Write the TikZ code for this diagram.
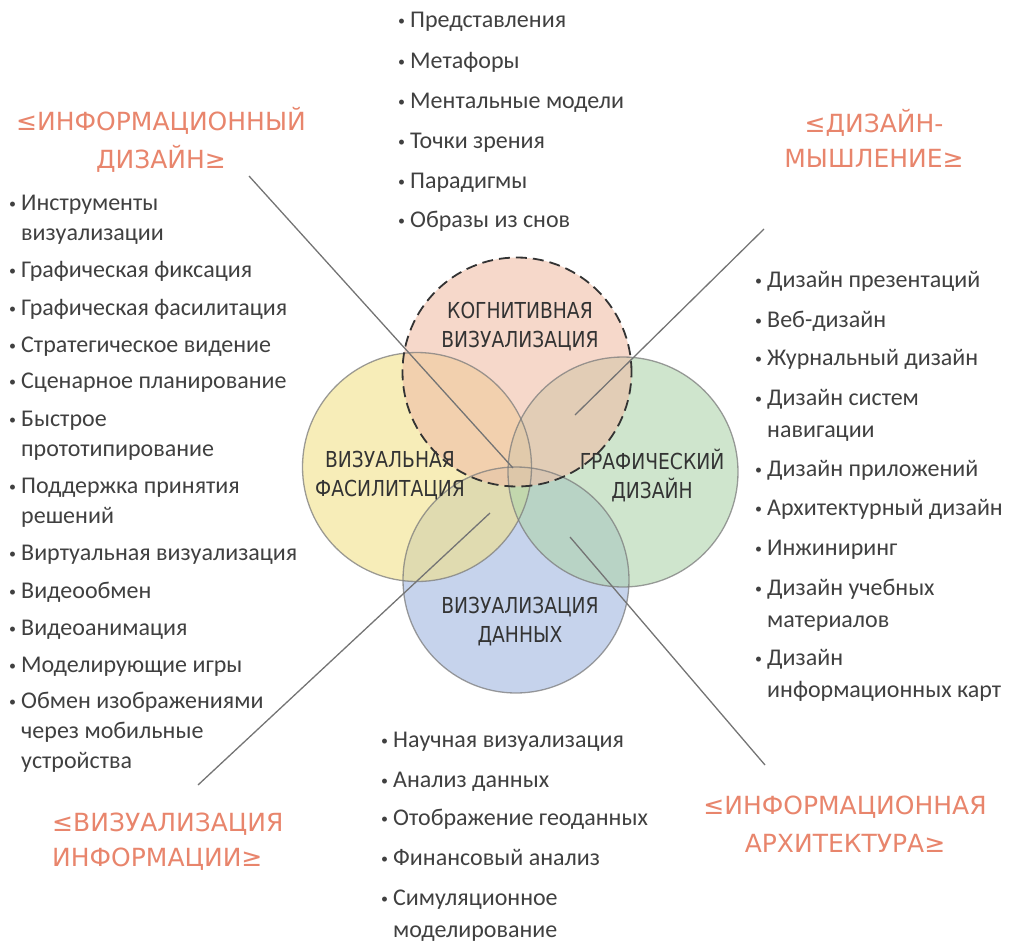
\documentclass[tikz,border=0pt]{standalone}
\usepackage{fontspec}
\setmainfont{Carlito}
\newfontfamily\handc[FakeStretch=0.85]{DejaVu Sans}
\newfontfamily\handw{DejaVu Sans}
\definecolor{txt}{HTML}{404040}
\definecolor{salmon}{HTML}{E8856C}
\definecolor{cpink}{RGB}{240,190,167}
\definecolor{cyell}{RGB}{242,225,137}
\definecolor{cgreen}{RGB}{175,212,172}
\definecolor{cblue}{RGB}{160,182,223}
\definecolor{ring}{HTML}{7C7C7C}
\definecolor{conn}{HTML}{747474}
\newcommand\bl{\makebox[12pt][l]{\raisebox{1.5pt}{\fontsize{14}{14}\selectfont •}}}
\newcommand\ind{\hspace*{12pt}}
\tikzset{
  item/.style={anchor=base west, inner sep=0pt, text=txt, align=left, font=\fontsize{24}{30}\selectfont},
  itemr/.style={item, font=\fontsize{24}{32}\selectfont},
  venn/.style={circle, inner sep=0pt, fill opacity=0.6},
  ringline/.style={draw=ring, line width=1.3pt, draw opacity=0.75},
  clabel/.style={align=center, inner sep=0pt, text=black!80, font=\handc\fontsize{22}{29}\selectfont},
  hlabel/.style={align=center, inner sep=0pt, text=salmon, font=\handw\fontsize{25}{38}\selectfont},
  connector/.style={draw=conn, line width=1.3pt},
}
\begin{document}
\begin{tikzpicture}[x=1pt,y=-1pt]
\useasboundingbox (0,0) rectangle (1013,943);
% circles
\node[venn, fill=cblue, minimum size=226pt] (dv) at (516,580) {};
\node[venn, fill=cyell, minimum size=229pt] (vf) at (417,467) {};
\node[venn, fill=cgreen, minimum size=230pt] (gd) at (623,472) {};
\node[venn, fill=cpink, minimum size=229pt] (cv) at (517,372) {};
\draw[ringline] (dv.center) circle (113pt);
\draw[ringline] (vf.center) circle (114.5pt);
\draw[ringline] (gd.center) circle (115pt);
\draw[black!80, line width=1.8pt, dash pattern=on 11pt off 6pt] (cv.center) circle (114.5pt);
% connectors
\coordinate (a1) at (249,176);
\coordinate (b1) at (513,468);
\coordinate (a2) at (764,229);
\coordinate (b2) at (575,415);
\coordinate (a3) at (198,785);
\coordinate (b3) at (490,513);
\coordinate (a4) at (765,765);
\coordinate (b4) at (570,537);
\draw[connector] (a1) -- (b1);
\draw[connector] (a2) -- (b2);
\draw[connector] (a3) -- (b3);
\draw[connector] (a4) -- (b4);
% circle labels
\node[clabel] (lcv) at (520,327) {КОГНИТИВНАЯ\\ВИЗУАЛИЗАЦИЯ};
\node[clabel] (lvf) at (390,476) {ВИЗУАЛЬНАЯ\\ФАСИЛИТАЦИЯ};
\node[clabel] (lgd) at (652,476) {ГРАФИЧЕСКИЙ\\ДИЗАЙН};
\node[clabel] (ldv) at (520,622) {ВИЗУАЛИЗАЦИЯ\\ДАННЫХ};
% corner labels
\node[hlabel] (h1) at (161,140) {≤ИНФОРМАЦИОННЫЙ\\ДИЗАЙН≥};
\node[hlabel, font=\handw\fontsize{25}{35}\selectfont] (h2) at (874,138) {≤ДИЗАЙН-\\МЫШЛЕНИЕ≥};
\node[hlabel, align=left, anchor=west, font=\handw\fontsize{25}{35}\selectfont] (h3) at (52,842) {≤ВИЗУАЛИЗАЦИЯ\\ИНФОРМАЦИИ≥};
\node[hlabel] (h4) at (845,824) {≤ИНФОРМАЦИОННАЯ\\АРХИТЕКТУРА≥};
% top list
\node[item] (t1) at (398,27) {\bl Представления};
\node[item] (t2) at (398,68) {\bl Метафоры};
\node[item] (t3) at (398,108) {\bl Ментальные модели};
\node[item] (t4) at (398,148) {\bl Точки зрения};
\node[item] (t5) at (398,188) {\bl Парадигмы};
\node[item] (t6) at (398,227) {\bl Образы из снов};
% left list (multi-line nodes: base = last line)
\node[item] (l1) at (9,240) {\bl Инструменты\\\ind визуализации};
\node[item] (l2) at (9,277) {\bl Графическая фиксация};
\node[item] (l3) at (9,315) {\bl Графическая фасилитация};
\node[item] (l4) at (9,352) {\bl Стратегическое видение};
\node[item] (l5) at (9,388) {\bl Сценарное планирование};
\node[item] (l6) at (9,456) {\bl Быстрое\\\ind прототипирование};
\node[item] (l7) at (9,523) {\bl Поддержка принятия\\\ind решений};
\node[item] (l8) at (9,560) {\bl Виртуальная визуализация};
\node[item] (l9) at (9,598) {\bl Видеообмен};
\node[item] (l10) at (9,635) {\bl Видеоанимация};
\node[item] (l11) at (9,672) {\bl Моделирующие игры};
\node[item] (l12) at (9,768) {\bl Обмен изображениями\\\ind через мобильные\\\ind устройства};
% right list
\node[itemr] (r1) at (755,287) {\bl Дизайн презентаций};
\node[itemr] (r2) at (755,327) {\bl Веб-дизайн};
\node[itemr] (r3) at (755,365) {\bl Журнальный дизайн};
\node[itemr] (r4) at (755,437) {\bl Дизайн систем\\\ind навигации};
\node[itemr] (r5) at (755,476) {\bl Дизайн приложений};
\node[itemr] (r6) at (755,515) {\bl Архитектурный дизайн};
\node[itemr] (r7) at (755,555) {\bl Инжиниринг};
\node[itemr] (r8) at (755,627) {\bl Дизайн учебных\\\ind материалов};
\node[itemr] (r9) at (755,697) {\bl Дизайн\\\ind информационных карт};
% bottom list
\node[item] (d1) at (381,747) {\bl Научная визуализация};
\node[item] (d2) at (381,787) {\bl Анализ данных};
\node[item] (d3) at (381,825) {\bl Отображение геоданных};
\node[item] (d4) at (381,865) {\bl Финансовый анализ};
\node[itemr] (d5) at (381,937) {\bl Симуляционное\\\ind моделирование};
\end{tikzpicture}
\end{document}
